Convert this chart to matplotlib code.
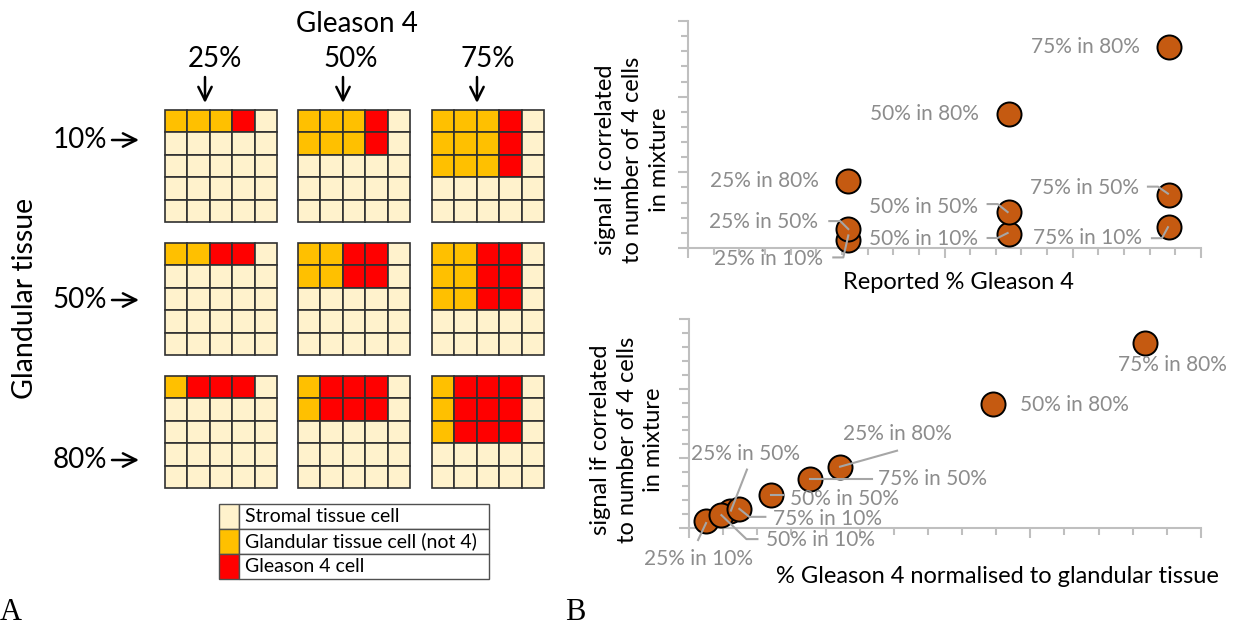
import numpy as np
import matplotlib.pyplot as plt
from matplotlib.patches import Rectangle

plt.rcParams['font.family'] = ['Lato', 'DejaVu Sans']

# ---- panel A: schematic cell grids ----
gleason_levels = ['25%', '50%', '75%']
glandular_levels = ['10%', '50%', '80%']
filled_rows = [1, 2, 3]       # rows of glandular cells, per Gleason level
red_per_row = [1, 2, 3]       # Gleason 4 cells per glandular row, per glandular level
legend_labels = ['Stromal tissue cell', 'Glandular tissue cell (not 4)', 'Gleason 4 cell']

# ---- panel B: scatter data ----
point_names = ['25% in 10%', '25% in 50%', '25% in 80%',
               '50% in 10%', '50% in 50%', '50% in 80%',
               '75% in 10%', '75% in 50%', '75% in 80%']
reported = [25, 25, 25, 50, 50, 50, 75, 75, 75]
signal = [2.0, 5.0, 17.6, 3.7, 9.5, 35.5, 5.5, 14.1, 53.2]
normalised = [2.0, 4.8, 17.7, 3.8, 9.6, 35.6, 5.9, 14.2, 53.4]

STROMA = '#FFF2CC'
GLAND = '#FFC000'
G4 = '#FF0000'
MARKER = '#C55A11'
AXIS = '#BFBFBF'
LABEL = '#8C8C8C'
LEADER = '#A6A6A6'

fig = plt.figure(figsize=(12.35, 6.31), dpi=100)

ax_a = fig.add_axes([0, 0, 1, 1])
ax_a.set_xlim(0, 1235)
ax_a.set_ylim(631, 0)
ax_a.axis('off')

grid_x = [165, 298, 432]
grid_y = [110, 243, 376]
cell = 22.4
for i in range(3):
    for j in range(3):
        for r in range(5):
            for c in range(5):
                color = STROMA
                if r < filled_rows[j] and c < 4:
                    color = G4 if c >= 4 - red_per_row[i] else GLAND
                ax_a.add_patch(Rectangle((grid_x[j] + c * cell, grid_y[i] + r * cell),
                                         cell, cell, facecolor=color,
                                         edgecolor='#303030', lw=1.2))

ax_a.text(357, 24, 'Gleason 4', ha='center', va='center', fontsize=20)
for j, lab in enumerate(gleason_levels):
    ax_a.text([215, 351, 488][j], 59, lab, ha='center', va='center', fontsize=20)
    xa = [205, 343, 477][j]
    ax_a.annotate('', xy=(xa, 103), xytext=(xa, 77),
                  arrowprops=dict(arrowstyle='->', lw=1.8, color='black',
                                  mutation_scale=24, shrinkA=0, shrinkB=0))
for i, lab in enumerate(glandular_levels):
    yc = [140, 300, 460][i]
    ax_a.text(107, yc, lab, ha='right', va='center', fontsize=20)
    ax_a.annotate('', xy=(139, yc), xytext=(112, yc),
                  arrowprops=dict(arrowstyle='->', lw=1.8, color='black',
                                  mutation_scale=24, shrinkA=0, shrinkB=0))
ax_a.text(25, 298, 'Glandular tissue', rotation=90, ha='center', va='center', fontsize=20.5)

# legend table
leg_colors = [STROMA, GLAND, G4]
for k, lab in enumerate(legend_labels):
    y0 = 504 + k * 25
    ax_a.add_patch(Rectangle((219, y0), 20, 25, facecolor=leg_colors[k],
                             edgecolor='#505050', lw=1.0))
    ax_a.add_patch(Rectangle((239, y0), 250, 25, facecolor='white',
                             edgecolor='#505050', lw=1.0))
    ax_a.text(245, y0 + 12.5, lab, ha='left', va='center', fontsize=14)

ax_a.text(0, 612, 'A', ha='left', va='center', fontsize=22, family='Liberation Serif')
ax_a.text(565, 612, 'B', ha='left', va='center', fontsize=22, family='Liberation Serif')


def style_axes(ax, xmax, xminor, ymax, yminor):
    ax.set_xlim(0, xmax)
    ax.set_ylim(0, ymax)
    ax.set_xticks(np.arange(0, xmax + 0.1, xminor * 5))
    ax.set_xticks(np.arange(0, xmax + 0.1, xminor), minor=True)
    ax.set_yticks(np.arange(0, ymax + 0.1, yminor * 5))
    ax.set_yticks(np.arange(0, ymax + 0.1, yminor), minor=True)
    ax.tick_params(which='major', length=7, width=1.5, color=AXIS,
                   labelbottom=False, labelleft=False)
    ax.tick_params(which='minor', length=5, width=1.5, color=AXIS)
    for side in ['top', 'right']:
        ax.spines[side].set_visible(False)
    for side in ['left', 'bottom']:
        ax.spines[side].set_color(AXIS)
        ax.spines[side].set_linewidth(1.5)
    ax.patch.set_alpha(0)


def leader(ax, x, y, offsets):
    # offsets are in pixels from the marker centre
    x0, x1 = ax.get_xlim()
    y0, y1 = ax.get_ylim()
    sx = (x1 - x0) / ax.bbox.width
    sy = (y1 - y0) / ax.bbox.height
    xs = [x + dx * sx for dx, dy in offsets]
    ys = [y + dy * sy for dx, dy in offsets]
    ax.plot(xs, ys, color=LEADER, lw=1.5, zorder=4, clip_on=False)


ylab = 'signal if correlated\nto number of 4 cells\nin mixture'

# ---- top scatter ----
ax1 = fig.add_axes([688 / 1235, (631 - 248) / 631, 513 / 1235, 227 / 631])
style_axes(ax1, 80, 4, 60, 4)
ax1.scatter(reported, signal, s=300, c=MARKER, edgecolors='black',
            linewidths=1.4, zorder=3, clip_on=False)
top_labels = {
    '25% in 10%': (-25, -19, 'right', [(-15, -17), (-5, -17), (0, 5)]),
    '25% in 50%': (-30, 7, 'right', [(-19, 8), (-8, 8), (0, 0)]),
    '25% in 80%': (-29, 0, 'right', None),
    '50% in 10%': (-31, -5, 'right', [(-21, -4), (-11, -4), (-1, 1)]),
    '50% in 50%': (-31, 5, 'right', [(-21, 8), (-11, 8), (-1, 0)]),
    '50% in 80%': (-30, 0, 'right', None),
    '75% in 10%': (-27, -11, 'right', [(-17, -11), (-7, -11), (-1, 0)]),
    '75% in 50%': (-30, 7, 'right', [(-21, 8), (-11, 8), (-1, 1)]),
    '75% in 80%': (-29, 0, 'right', None),
}
for name, x, y in zip(point_names, reported, signal):
    dx, dy, ha, lead = top_labels[name]
    ax1.annotate(name, (x, y), xytext=(dx, dy), textcoords='offset pixels',
                 ha=ha, va='center', fontsize=15, color=LABEL, zorder=5)
    if lead:
        leader(ax1, x, y, lead)
ax1.text(0.528, -0.154, 'Reported % Gleason 4', transform=ax1.transAxes,
         ha='center', va='center', fontsize=17)
ax1.text(-0.109, 0.39, ylab, transform=ax1.transAxes, rotation=90,
         ha='center', va='center', multialignment='center', fontsize=17,
         linespacing=1.35)

# ---- bottom scatter ----
ax2 = fig.add_axes([689 / 1235, (631 - 528) / 631, 512 / 1235, 209 / 631])
style_axes(ax2, 60, 4, 60, 4)
ax2.scatter(normalised, signal, s=300, c=MARKER, edgecolors='black',
            linewidths=1.4, zorder=3, clip_on=False)
bottom_labels = {
    '25% in 10%': (-8, -38, 'center', [(-8, -19), (0, -2)]),
    '25% in 50%': (16, 57, 'center', [(17, 41), (1, 0)]),
    '25% in 80%': (3, 33, 'left', [(57, 16), (0, 0)]),
    '50% in 10%': (45, -25, 'left', [(0, 0), (25, -24), (36, -24)]),
    '50% in 50%': (19, -4, 'left', [(0, 0), (12, 0)]),
    '50% in 80%': (27, -1, 'left', None),
    '75% in 10%': (34, -10, 'left', [(0, 0), (10, -8), (26, -8)]),
    '75% in 50%': (68, 0, 'left', [(0, 0), (62, 0)]),
    '75% in 80%': (-27, -22, 'left', None),
}
for name, x, y in zip(point_names, normalised, signal):
    dx, dy, ha, lead = bottom_labels[name]
    ax2.annotate(name, (x, y), xytext=(dx, dy), textcoords='offset pixels',
                 ha=ha, va='center', fontsize=15, color=LABEL, zorder=5)
    if lead:
        leader(ax2, x, y, lead)
ax2.text(0.603, -0.234, '% Gleason 4 normalised to glandular tissue',
         transform=ax2.transAxes, ha='center', va='center', fontsize=17)
ax2.text(-0.121, 0.421, ylab, transform=ax2.transAxes, rotation=90,
         ha='center', va='center', multialignment='center', fontsize=17,
         linespacing=1.35)

fig.savefig('out.png', dpi=100)
